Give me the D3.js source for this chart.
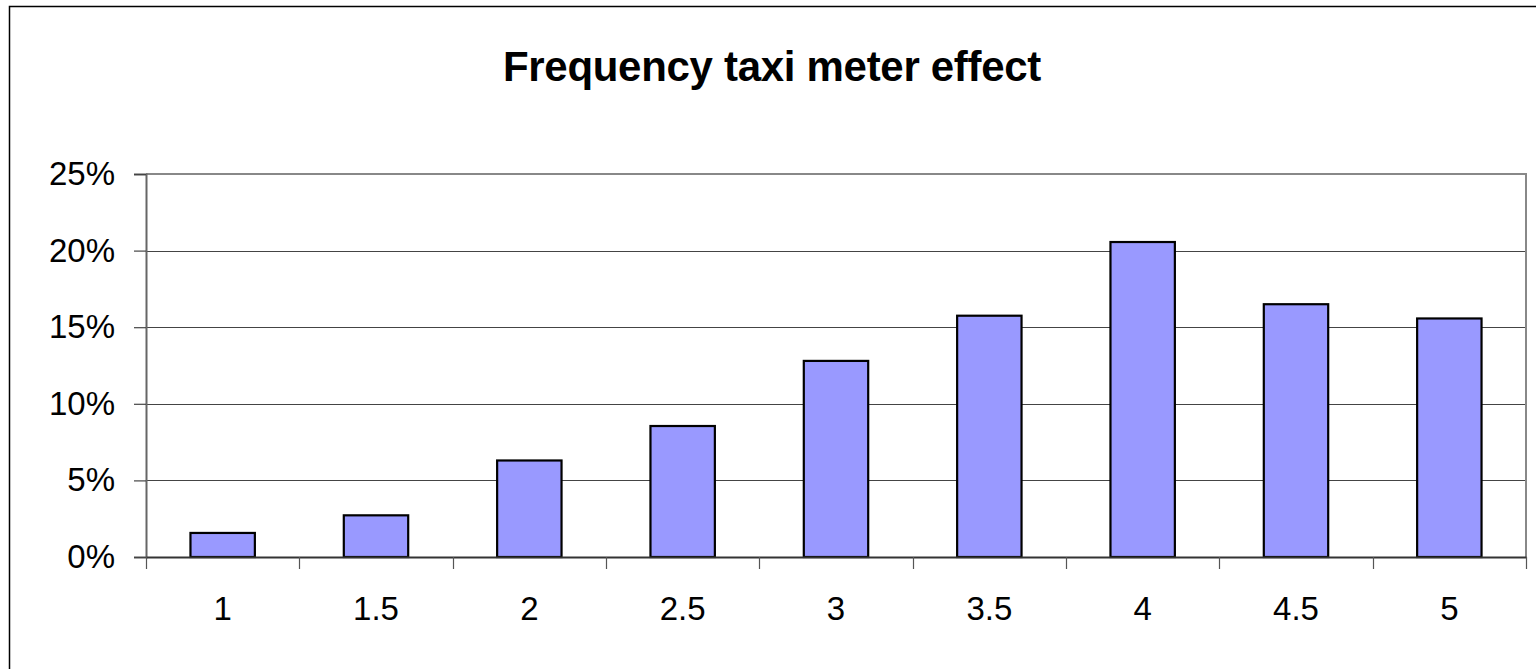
<!DOCTYPE html>
<html>
<head>
<meta charset="utf-8">
<script src="https://cdn.jsdelivr.net/npm/d3@7"></script>
<style>
  html, body { margin: 0; padding: 0; background: #fff; }
  svg { display: block; font-family: "Liberation Sans", Arial, sans-serif; }
</style>
</head>
<body>
<svg id="chart" width="1536" height="669"></svg>
<script>
const title = "Frequency taxi meter effect";
const categories = ["1", "1.5", "2", "2.5", "3", "3.5", "4", "4.5", "5"];
const values = [0.0157, 0.0272, 0.063, 0.0855, 0.128, 0.1575, 0.2056, 0.165, 0.1557];
const yTicks = [0, 0.05, 0.10, 0.15, 0.20, 0.25];

const svg = d3.select("#chart");
const W = 1536, H = 669;
const plot = { left: 146, top: 174, right: 1526, bottom: 557 };

// outer chart border (extends past right/bottom edge)
svg.append("rect")
  .attr("x", 9.5).attr("y", 6.5)
  .attr("width", W + 20).attr("height", H + 20)
  .attr("fill", "#fff").attr("stroke", "#000").attr("stroke-width", 1.5);

svg.append("text")
  .attr("x", 772).attr("y", 81)
  .attr("text-anchor", "middle")
  .attr("font-size", 42).attr("font-weight", "bold")
  .attr("letter-spacing", -0.3)
  .attr("fill", "#000")
  .text(title);

const x = d3.scaleBand().domain(categories)
  .range([plot.left, plot.right]).paddingInner(0.58).paddingOuter(0.29);
const xb = d3.scaleBand().domain(categories).range([plot.left, plot.right]);
const y = d3.scaleLinear().domain([0, 0.25]).range([plot.bottom, plot.top]);

// gridlines
svg.append("g").selectAll("line").data(yTicks.filter(d => d > 0 && d < 0.25)).join("line")
  .attr("x1", plot.left).attr("x2", plot.right)
  .attr("y1", d => Math.round(y(d)) + 0.5).attr("y2", d => Math.round(y(d)) + 0.5)
  .attr("stroke", "#444").attr("stroke-width", 1.2);

// plot area top/right border
svg.append("path")
  .attr("d", `M${plot.left},${plot.top} H${plot.right} V${plot.bottom}`)
  .attr("fill", "none").attr("stroke", "#888").attr("stroke-width", 2);

// bars
svg.append("g").selectAll("rect").data(values).join("rect")
  .attr("x", (d, i) => x(categories[i]))
  .attr("width", x.bandwidth())
  .attr("y", d => y(d))
  .attr("height", d => y(0) - y(d))
  .attr("fill", "#9999FF").attr("stroke", "#000").attr("stroke-width", 2.2);

// y axis
const yAxis = d3.axisLeft(y).tickValues(yTicks)
  .tickFormat(d3.format(".0%")).tickSize(12).tickPadding(19);
const gy = svg.append("g").attr("transform", `translate(${plot.left},0)`).call(yAxis);
gy.select(".domain").attr("stroke", "#666").attr("stroke-width", 2);
gy.selectAll(".tick line").attr("stroke", "#444").attr("stroke-width", 1.2);
gy.selectAll(".tick text").attr("font-size", 33).attr("fill", "#000")
  .attr("font-family", "Liberation Sans, Arial, sans-serif");

// x axis
const xAxis = d3.axisBottom(xb).tickSize(0).tickPadding(40);
const gx = svg.append("g").attr("transform", `translate(0,${plot.bottom})`).call(xAxis);
gx.select(".domain").attr("stroke", "#333").attr("stroke-width", 2);
gx.selectAll(".tick text").attr("font-size", 33).attr("fill", "#000")
  .attr("font-family", "Liberation Sans, Arial, sans-serif");

// x tick marks at category boundaries
const bounds = categories.map(c => xb(c)).concat([plot.right]);
svg.append("g").selectAll("line").data(bounds).join("line")
  .attr("x1", d => Math.round(d) + 0.5).attr("x2", d => Math.round(d) + 0.5)
  .attr("y1", plot.bottom).attr("y2", plot.bottom + 12)
  .attr("stroke", "#555").attr("stroke-width", 1.2);
</script>
</body>
</html>
